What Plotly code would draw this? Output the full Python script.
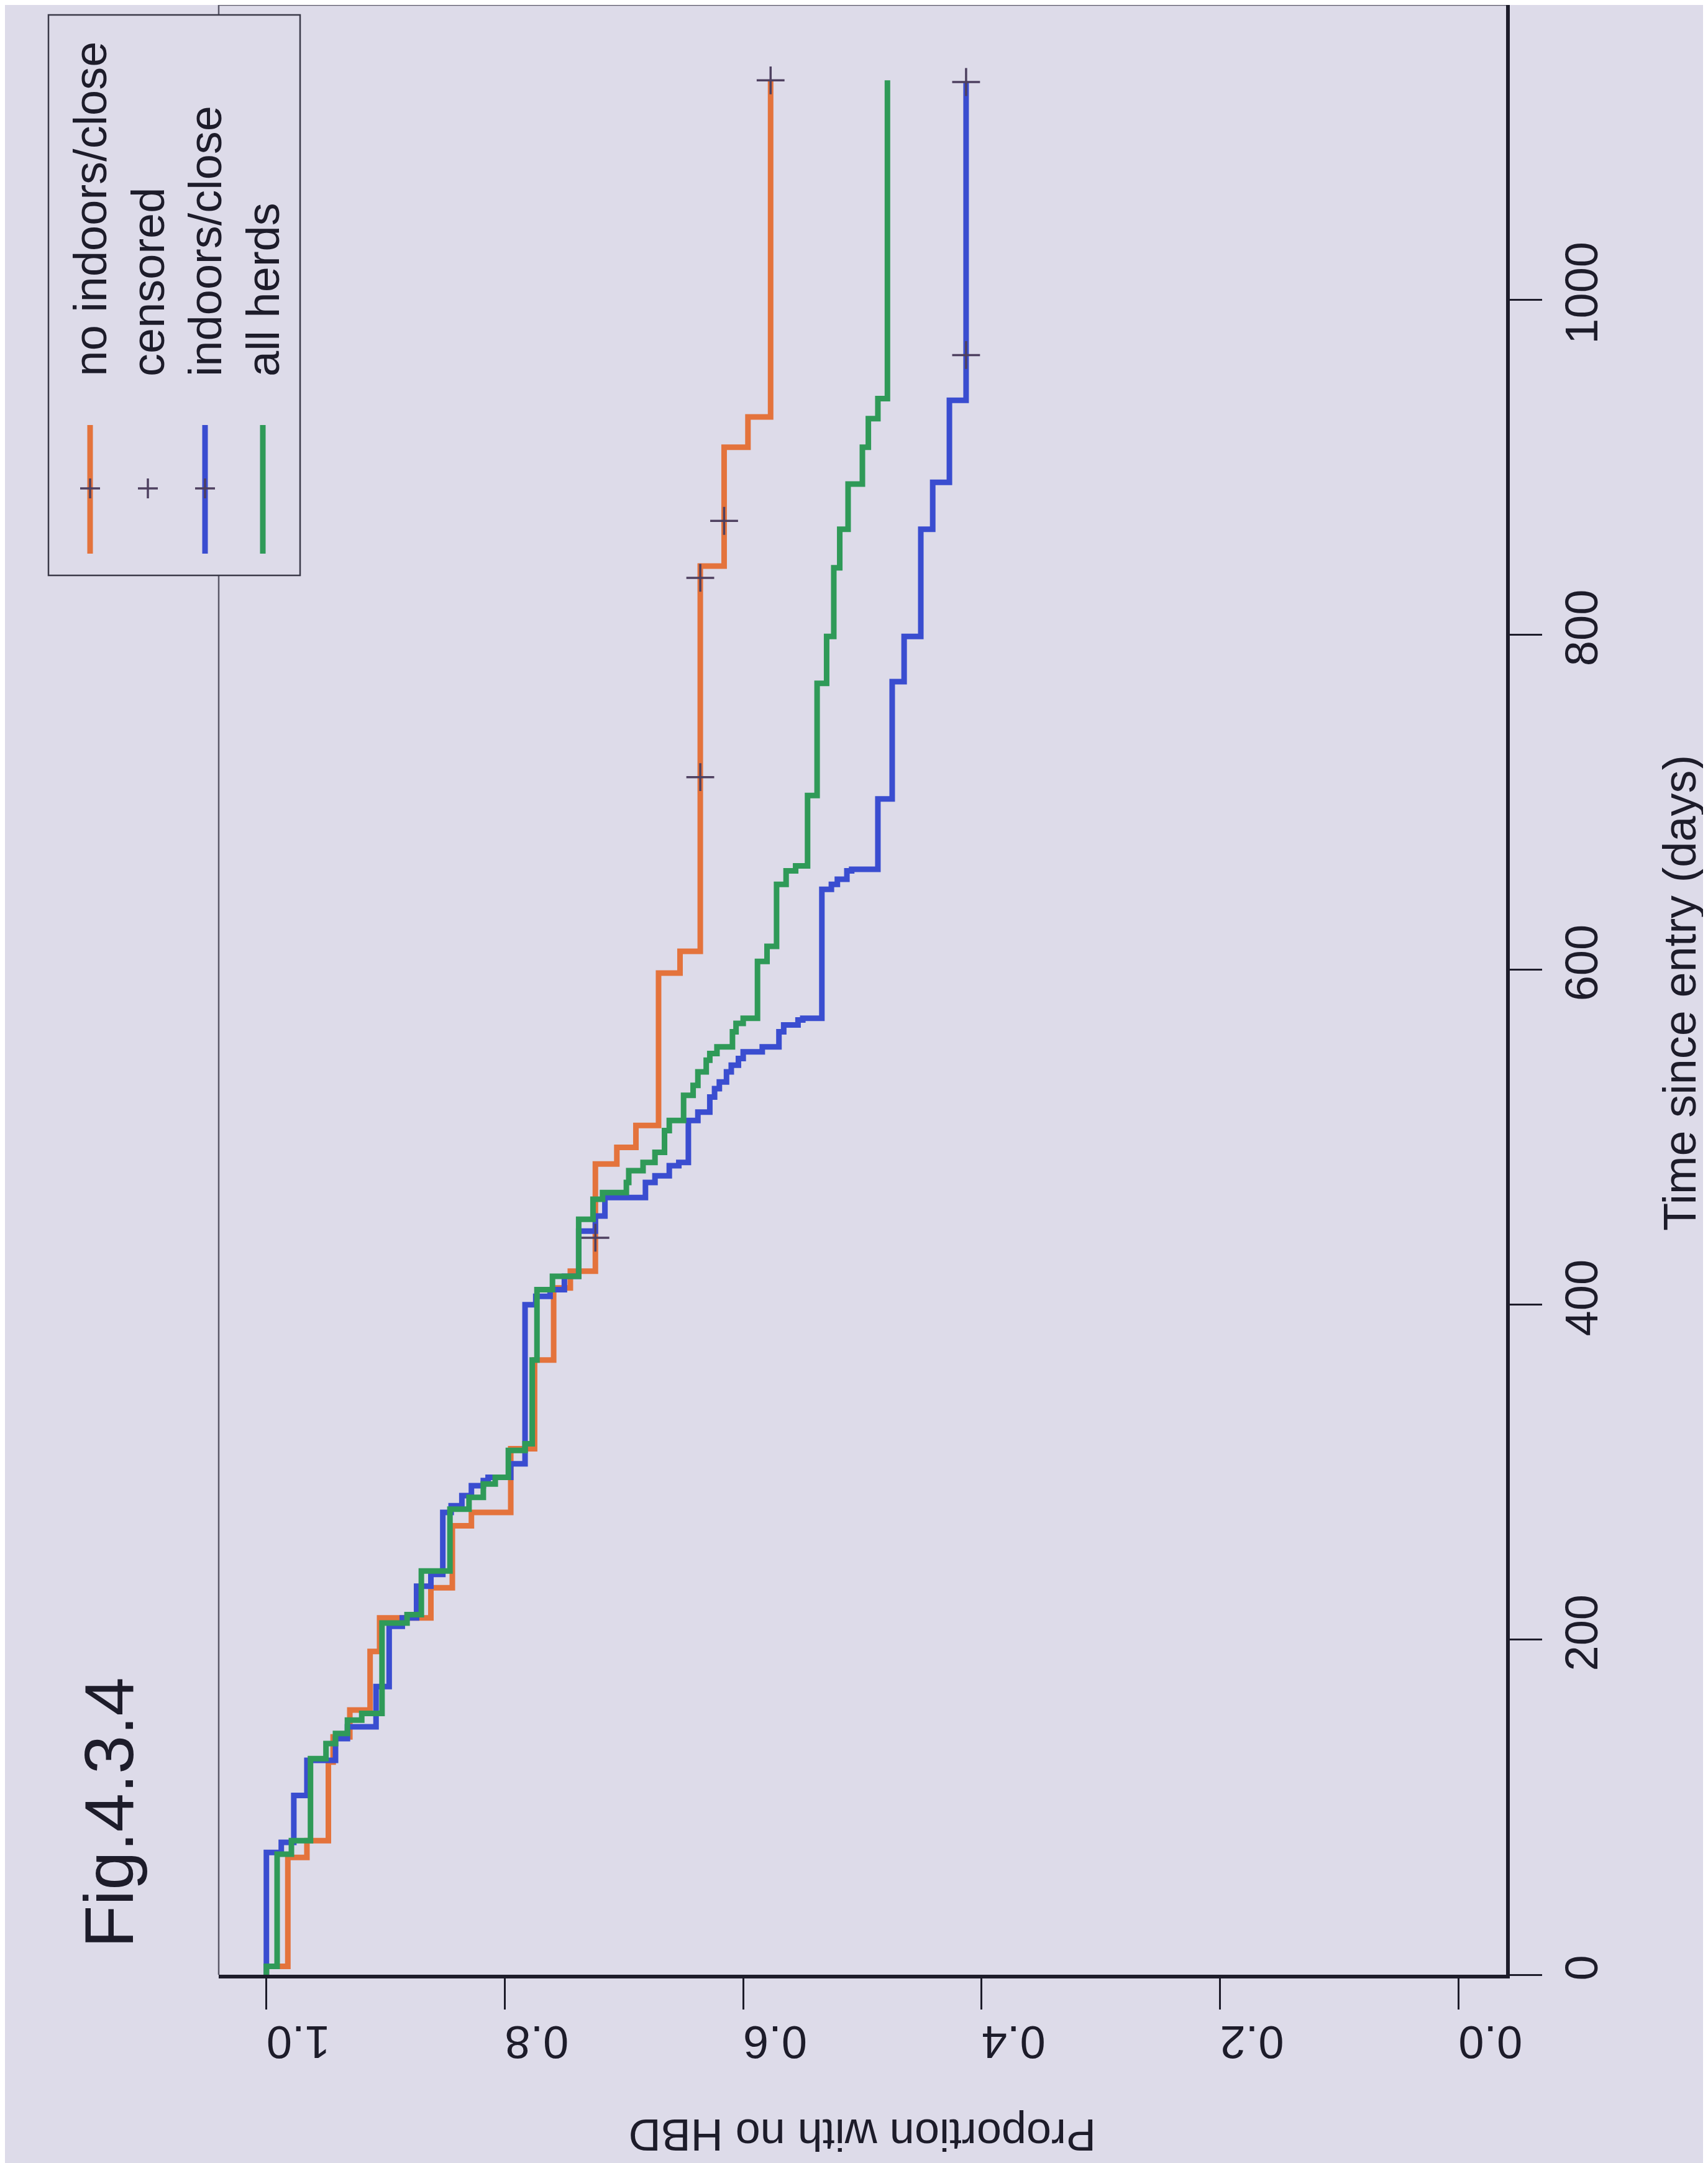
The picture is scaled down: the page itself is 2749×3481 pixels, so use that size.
import plotly.graph_objects as go

# ---------------- data (Kaplan-Meier step curves) ----------------
orange_t = [0, 5, 70, 80, 127, 142, 158, 193, 213, 231, 268, 276, 314, 367, 410, 420,
            484, 494, 507, 598, 611, 841, 912, 930]
orange_s = [1.0, 0.982, 0.966, 0.948, 0.944, 0.930, 0.913, 0.905, 0.862, 0.844, 0.828,
            0.795, 0.775, 0.759, 0.745, 0.724, 0.706, 0.690, 0.671, 0.653, 0.636, 0.616,
            0.596, 0.577]
orange_end = 1131
orange_cens = [440, 715, 834, 868, 1131]

blue_t = [0, 73, 79, 107, 128, 141, 148, 172, 208, 213, 232, 239, 276, 280, 286, 292,
          295, 297, 305, 400, 405, 409, 417, 444, 453, 464, 473, 477, 483, 485, 510, 515,
          524, 529, 533, 539, 543, 547, 551, 554, 563, 567, 570, 571, 648, 651, 654, 659,
          660, 702, 772, 799, 863, 891, 940]
blue_s = [1.0, 0.9875, 0.977, 0.966, 0.942, 0.932, 0.908, 0.897, 0.886, 0.874, 0.862,
          0.852, 0.845, 0.836, 0.828, 0.818, 0.814, 0.795, 0.783, 0.774, 0.762, 0.750,
          0.738, 0.724, 0.716, 0.682, 0.674, 0.662, 0.654, 0.646, 0.638, 0.628, 0.624,
          0.620, 0.614, 0.610, 0.604, 0.600, 0.584, 0.570, 0.566, 0.554, 0.550, 0.534,
          0.526, 0.521, 0.513, 0.509, 0.487, 0.475, 0.465, 0.451, 0.441, 0.427, 0.413]
blue_end = 1130
blue_cens = [967, 1130]

green_t = [0, 5, 72, 80, 129, 138, 144, 152, 156, 210, 215, 241, 278, 285, 293, 297, 313,
           317, 367, 409, 417, 451, 463, 467, 473, 480, 485, 491, 504, 510, 525, 531, 539,
           546, 550, 554, 563, 568, 571, 605, 614, 651, 659, 662, 704, 771, 799, 840, 863,
           890, 912, 929, 941]
green_s = [1.0, 0.991, 0.979, 0.963, 0.950, 0.942, 0.932, 0.920, 0.903, 0.882, 0.870,
           0.846, 0.830, 0.818, 0.808, 0.797, 0.783, 0.777, 0.773, 0.760, 0.738, 0.726,
           0.718, 0.698, 0.696, 0.684, 0.674, 0.666, 0.662, 0.650, 0.642, 0.638, 0.631,
           0.628, 0.622, 0.609, 0.606, 0.600, 0.588, 0.580, 0.572, 0.564, 0.556, 0.546,
           0.538, 0.530, 0.524, 0.519, 0.512, 0.500, 0.495, 0.487, 0.479]
green_end = 1131

time_ticks = [0, 200, 400, 600, 800, 1000]
prop_ticks = [0.0, 0.2, 0.4, 0.6, 0.8, 1.0]
prop_labels = ["0.0", "0.2", "0.4", "0.6", "0.8", "1.0"]

legend_labels = ["no indoors/close", "censored", "indoors/close", "all herds"]
title_text = "Fig.4.3.4"
x_title = "Proportion with no HBD"
y_title = "Time since entry (days)"

# ---------------- styling ----------------
BG = "#dddbe9"
INK = "#1d1c2a"
ORANGE = "#e4733c"
BLUE = "#3a4dd0"
GREEN = "#2f9a58"
CENS = "#4e4060"
FONT = "Liberation Sans, Arial, Helvetica, sans-serif"

W, H = 2749, 3481
L, R, T, B = 344, 2749 - 2416, 0, 3481 - 3170
PW, PH = W - L - R, H - T - B


def px(X):
    return (X - L) / PW


def py(Y):
    return (H - B - Y) / PH


def surv_at(ts, ss, t):
    v = ss[0]
    for ti, si in zip(ts, ss):
        if ti <= t:
            v = si
    return v


fig = go.Figure()

for ts, ss, tend, col in [(orange_t, orange_s, orange_end, ORANGE),
                          (blue_t, blue_s, blue_end, BLUE),
                          (green_t, green_s, green_end, GREEN)]:
    fig.add_trace(go.Scatter(
        x=ss + [ss[-1]], y=ts + [tend], mode="lines",
        line=dict(color=col, width=9, shape="vh"),
        showlegend=False, hoverinfo="skip"))

cx, cy = [], []
for ts, ss, cens in [(orange_t, orange_s, orange_cens), (blue_t, blue_s, blue_cens)]:
    for c in cens:
        cx.append(surv_at(ts, ss, c))
        cy.append(c)
fig.add_trace(go.Scatter(
    x=cx, y=cy, mode="markers",
    marker=dict(symbol="cross-thin", size=32, line=dict(width=3.5, color=CENS)),
    showlegend=False, hoverinfo="skip", cliponaxis=False))

shapes = []
# thin box on left and top
shapes.append(dict(type="line", xref="paper", yref="paper", x0=0, x1=0, y0=0, y1=1,
                   line=dict(color="#5a5868", width=2.5), layer="above"))
shapes.append(dict(type="line", xref="paper", yref="paper", x0=0, x1=1, y0=1, y1=1,
                   line=dict(color="#5a5868", width=2.5), layer="above"))
# legend box
shapes.append(dict(type="rect", xref="paper", yref="paper",
                   x0=px(70), x1=px(475), y0=py(918), y1=py(16),
                   fillcolor=BG, line=dict(color="#3a3948", width=2.5), layer="above"))

leg_cols = [137, 230, 322, 415]
leg_line_cols = [ORANGE, None, BLUE, GREEN]
leg_marks = [True, True, True, False]
annotations = []
for Xc, lc, mk, lab in zip(leg_cols, leg_line_cols, leg_marks, legend_labels):
    if lc:
        shapes.append(dict(type="line", xref="paper", yref="paper",
                           x0=px(Xc), x1=px(Xc), y0=py(883), y1=py(676),
                           line=dict(color=lc, width=9), layer="above"))
    if mk:
        shapes.append(dict(type="line", xref="paper", yref="paper",
                           x0=px(Xc - 16), x1=px(Xc + 16), y0=py(778), y1=py(778),
                           line=dict(color=CENS, width=3.5), layer="above"))
        shapes.append(dict(type="line", xref="paper", yref="paper",
                           x0=px(Xc), x1=px(Xc), y0=py(762), y1=py(794),
                           line=dict(color=CENS, width=3.5), layer="above"))
    annotations.append(dict(text=lab, xref="paper", yref="paper", x=px(Xc), y=py(600),
                            xanchor="center", yanchor="bottom", textangle=-90,
                            showarrow=False, font=dict(size=74, color=INK, family=FONT)))

annotations.append(dict(text=title_text, xref="paper", yref="paper", x=px(167), y=py(2909),
                        xanchor="center", yanchor="middle", textangle=-90, showarrow=False,
                        font=dict(size=112, color=INK, family=FONT)))
annotations.append(dict(text=x_title, xref="paper", yref="paper", x=px(1380), y=py(3428),
                        xanchor="center", yanchor="middle", textangle=180, showarrow=False,
                        font=dict(size=72, color=INK, family=FONT)))
annotations.append(dict(text=y_title, xref="paper", yref="paper", x=px(2695), y=py(1590),
                        xanchor="center", yanchor="middle", textangle=-90, showarrow=False,
                        font=dict(size=74, color=INK, family=FONT)))

fig.update_layout(
    width=W, height=H, autosize=False,
    margin=dict(l=L, r=R, t=T, b=B, pad=0),
    paper_bgcolor=BG, plot_bgcolor=BG,
    showlegend=False,
    shapes=shapes, annotations=annotations,
    font=dict(family=FONT, color=INK, size=74),
    xaxis=dict(range=[1.04, -0.04], tickvals=prop_ticks, ticktext=prop_labels,
               tickangle=180, showgrid=False, zeroline=False,
               showline=True, linewidth=6, linecolor=INK,
               ticks="outside", ticklen=50, tickwidth=3, tickcolor=INK,
               ticklabelstandoff=12,
               tickfont=dict(size=74, color=INK, family=FONT)),
    yaxis=dict(range=[0, 1176], tickvals=time_ticks, side="right",
               tickangle=-90, showgrid=False, zeroline=False,
               showline=True, linewidth=6, linecolor=INK,
               ticks="outside", ticklen=52, tickwidth=3, tickcolor=INK,
               tickfont=dict(size=74, color=INK, family=FONT)),
)

fig.write_html("out.html")
